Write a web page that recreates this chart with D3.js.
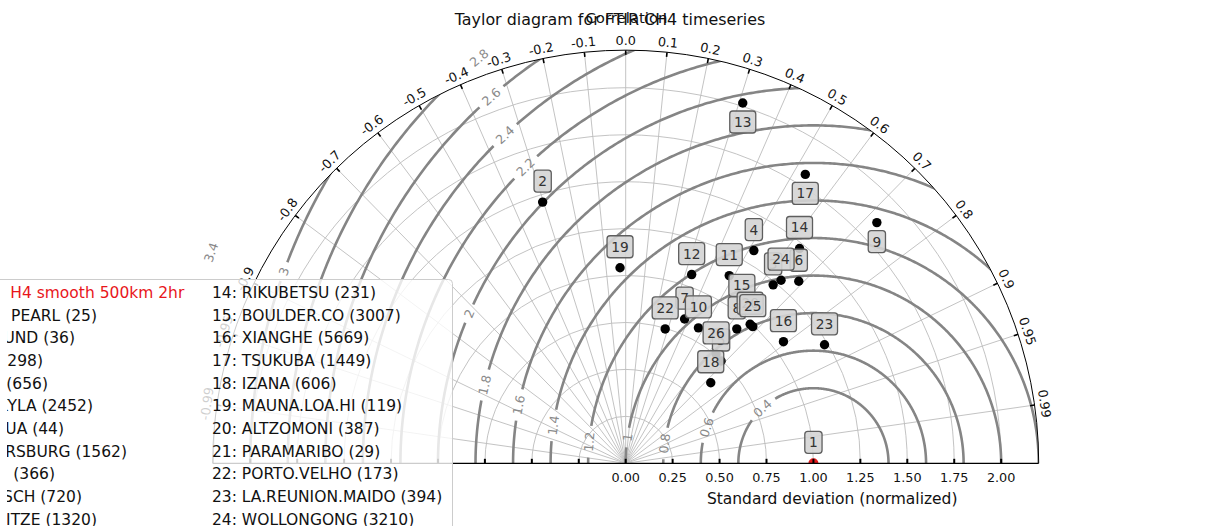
<!DOCTYPE html>
<html><head><meta charset="utf-8">
<script src="https://cdn.jsdelivr.net/npm/d3@7"></script>
<style>body{margin:0;background:#fff;overflow:hidden} text{font-family:"DejaVu Sans",sans-serif;}</style>
</head><body><svg id="chart" width="1208" height="526"></svg>
<script>
// ---------------- data ----------------
const titleText = "Taylor diagram for FTIR CH4 timeseries";
const corrAxisTitle = "Correlation";
const stdAxisTitle = "Standard deviation (normalized)";
const stdMax = 2.2;
const stdGrid = [0.25, 0.5, 0.75, 1.0, 1.25, 1.5, 1.75, 2.0];
const stdTickMarks = [-2.0, -1.75, -1.5, -1.25, -1.0, -0.75, -0.5, -0.25, 0, 0.25, 0.5, 0.75, 1.0, 1.25, 1.5, 1.75, 2.0];
const stdTickLabels = ["0.00", "0.25", "0.50", "0.75", "1.00", "1.25", "1.50", "1.75", "2.00"];
const stdTickLabelValues = [0, 0.25, 0.5, 0.75, 1.0, 1.25, 1.5, 1.75, 2.0];
const corrTicks = [-0.99, -0.95, -0.9, -0.8, -0.7, -0.6, -0.5, -0.4, -0.3, -0.2, -0.1, 0, 0.1, 0.2, 0.3, 0.4, 0.5, 0.6, 0.7, 0.8, 0.9, 0.95, 0.99];
const corrTickLabels = ["-0.99", "-0.95", "-0.9", "-0.8", "-0.7", "-0.6", "-0.5", "-0.4", "-0.3", "-0.2", "-0.1", "0.0", "0.1", "0.2", "0.3", "0.4", "0.5", "0.6", "0.7", "0.8", "0.9", "0.95", "0.99"];
const rmsLevels = [0.4, 0.6, 0.8, 1.0, 1.2, 1.4, 1.6, 1.8, 2.0, 2.2, 2.4, 2.6, 2.8, 3.0, 3.2, 3.4];
const rmsLabels = ["0.4", "0.6", "0.8", "1", "1.2", "1.4", "1.6", "1.8", "2", "2.2", "2.4", "2.6", "2.8", "3", "", "3.4"];
const rmsLabelAngles = [132.8, 161.4, 172.4, 172.1, 174.5, 171.7, 168.8, 166.6, 156.5, 134.2, 133.2, 131.3, 129.5, 160.1, null, 160.7];

const stationIds = [1, 2, 3, 4, 5, 6, 7, 8, 9, 10, 11, 12, 13, 14, 15, 16, 17, 18, 19, 20, 21, 22, 23, 24, 25, 26];
const stationStd = [1.0, 1.460, 1.233, 1.323, 0.745, 1.338, 0.830, 0.929, 1.853, 0.819, 1.142, 1.065, 2.018, 1.472, 1.040, 1.061, 1.812, 0.624, 1.042, 0.994, null, 0.746, 1.233, 1.279, 0.994, 0.756];
const stationCorr = [1.0, -0.303, 0.637, 0.516, 0.682, 0.689, 0.378, 0.637, 0.722, 0.473, 0.483, 0.330, 0.309, 0.629, 0.595, 0.792, 0.528, 0.726, -0.029, 0.667, null, 0.282, 0.859, 0.647, 0.681, 0.637];
const labelsBelow = [9, 13, 17];

const legendLeftText = ["CH4 smooth 500km 2hr", "PEARL (25)", "UND (36)", "(298)", "(656)", "KYLA (2452)", "UA (44)", "ERSBURG (1562)", "(366)", "SCH (720)", "PITZE (1320)"];
const legendLeftEnds = [184.3, 97, 75, 43, 48, 93, 64, 127, 55, 82, 97];
const legendRightText = ["14: RIKUBETSU (231)", "15: BOULDER.CO (3007)", "16: XIANGHE (5669)", "17: TSUKUBA (1449)", "18: IZANA (606)", "19: MAUNA.LOA.HI (119)", "20: ALTZOMONI (387)", "21: PARAMARIBO (29)", "22: PORTO.VELHO (173)", "23: LA.REUNION.MAIDO (394)", "24: WOLLONGONG (3210)"];

// ---------------- layout ----------------
const svg = d3.select("#chart");
const cx = 625.7, cy = 463.3;
const r = d3.scaleLinear().domain([0, stdMax]).range([0, 413]);
const R0 = r(stdMax);
const toXY = (s, ang) => [cx + r(s) * Math.cos(ang), cy - r(s) * Math.sin(ang)];
const deg = Math.PI / 180;

const defs = svg.append("defs");
defs.append("clipPath").attr("id", "half").append("path")
  .attr("d", `M${cx - R0},${cy} A${R0},${R0} 0 0 1 ${cx + R0},${cy} Z`);
defs.append("clipPath").attr("id", "legclip").append("rect")
  .attr("x", 7).attr("y", 0).attr("width", 1300).attr("height", 600);
defs.append("clipPath").attr("id", "legclip0").append("rect")
  .attr("x", 10).attr("y", 0).attr("width", 1300).attr("height", 600);

const gGrid = svg.append("g");
const gCont = svg.append("g").attr("clip-path", "url(#half)");
const gContLab = svg.append("g");
const gDots = svg.append("g");
const gBoxes = svg.append("g");
const gAxes = svg.append("g");
const gLegend = svg.append("g");

// std grid arcs
stdGrid.forEach(s => {
  const p = d3.path();
  p.moveTo(cx - r(s), cy);
  p.arc(cx, cy, r(s), Math.PI, 2 * Math.PI);
  gGrid.append("path").attr("d", p.toString()).attr("fill", "none")
    .attr("stroke", "#bcbcbc").attr("stroke-width", 0.9);
});
// correlation radial lines
corrTicks.forEach(c => {
  const a = Math.acos(c);
  const [x2, y2] = toXY(stdMax, a);
  gGrid.append("line").attr("x1", cx).attr("y1", cy).attr("x2", x2).attr("y2", y2)
    .attr("stroke", "#bcbcbc").attr("stroke-width", 0.9);
});

// RMS contours (circles around the reference point, std = 1)
const line = d3.line();
rmsLevels.forEach((R, i) => {
  const arcPts = (a0, a1) => {
    const pts = [];
    for (let a = a0; a < a1; a += 0.4) pts.push(a);
    pts.push(a1);
    return pts.map(a => [cx + r(1 + R * Math.cos(a * deg)), cy - r(R * Math.sin(a * deg))]);
  };
  const phi = rmsLabelAngles[i];
  let segs = [[0, 180]];
  if (phi !== null) {
    const lx = cx + r(1 + R * Math.cos(phi * deg));
    const ly = cy - r(R * Math.sin(phi * deg));
    let rot = -(phi + 90);
    while (rot <= -90) rot += 180;
    while (rot > 90) rot -= 180;
    const t = gContLab.append("text").attr("x", 0).attr("y", 0)
      .attr("transform", `translate(${lx},${ly}) rotate(${rot})`)
      .attr("text-anchor", "middle").attr("dominant-baseline", "central")
      .attr("font-size", 12.5).attr("fill", "#8a8a8a").text(rmsLabels[i]);
    const w = t.node().getComputedTextLength();
    const d = ((w / 2 + 6) / r(R)) / deg;
    segs = [[0, phi - d], [phi + d, 180]];
  }
  segs.forEach(([a0, a1]) => {
    gCont.append("path").attr("d", line(arcPts(a0, a1))).attr("fill", "none")
      .attr("stroke", "#858585").attr("stroke-width", 2.6);
  });
});

// station dots
stationIds.forEach((id, i) => {
  if (stationStd[i] === null) return;
  const [x, y] = toXY(stationStd[i], Math.acos(stationCorr[i]));
  const c = gDots.append("circle").attr("cx", x).attr("cy", y).attr("r", id === 1 ? 5 : 4.7)
    .attr("fill", id === 1 ? "#e41a1c" : "#000");
  if (id === 1) c.attr("clip-path", "url(#half)");
});
// station label boxes
stationIds.forEach((id, i) => {
  if (stationStd[i] === null) return;
  const [x, y] = toXY(stationStd[i], Math.acos(stationCorr[i]));
  const oy = labelsBelow.includes(id) ? 19 : -21;
  const g = gBoxes.append("g").attr("transform", `translate(${x},${y + oy})`);
  const rect = g.append("rect");
  const t = g.append("text").attr("text-anchor", "middle").attr("y", 5)
    .attr("font-size", 13.75).attr("fill", "#333").text(id);
  const w = t.node().getComputedTextLength() + 8.5;
  rect.attr("x", -w / 2).attr("y", -11).attr("width", w).attr("height", 22).attr("rx", 3)
    .attr("fill", "#d4d4d4").attr("fill-opacity", 0.9).attr("stroke", "#5e5e5e").attr("stroke-width", 1.3);
});

// axes: outer arc
{
  const p = d3.path();
  p.moveTo(cx - R0, cy);
  p.arc(cx, cy, R0, Math.PI, 2 * Math.PI);
  gAxes.append("path").attr("d", p.toString()).attr("fill", "none").attr("stroke", "#000").attr("stroke-width", 1);
}
gAxes.append("line").attr("x1", cx - R0).attr("x2", cx + R0).attr("y1", cy).attr("y2", cy)
  .attr("stroke", "#000").attr("stroke-width", 1.3);
// corr ticks + labels
corrTicks.forEach((c, i) => {
  const a = Math.acos(c);
  const [x1, y1] = toXY(stdMax, a);
  const x2 = cx + (R0 - 4.5) * Math.cos(a), y2 = cy - (R0 - 4.5) * Math.sin(a);
  gAxes.append("line").attr("x1", x1).attr("y1", y1).attr("x2", x2).attr("y2", y2)
    .attr("stroke", "#000").attr("stroke-width", 1.6);
  const lx = cx + (R0 + 10) * Math.cos(a), ly = cy - (R0 + 10) * Math.sin(a);
  gAxes.append("text").attr("transform", `translate(${lx},${ly}) rotate(${90 - a / deg})`)
    .attr("text-anchor", "middle").attr("dominant-baseline", "central")
    .attr("font-size", 12.8).attr("fill", "#111").text(corrTickLabels[i]);
});
// std ticks
stdTickMarks.forEach(s => {
  const x = cx + r(s);
  gAxes.append("line").attr("x1", x).attr("x2", x).attr("y1", cy).attr("y2", cy - 4.5)
    .attr("stroke", "#000").attr("stroke-width", 2);
});
stdTickLabelValues.forEach((s, i) => {
  gAxes.append("text").attr("x", cx + r(s)).attr("y", cy + 18.5).attr("text-anchor", "middle")
    .attr("font-size", 12.8).attr("fill", "#111").text(stdTickLabels[i]);
});
gAxes.append("text").attr("x", (cx + cx + R0) / 2).attr("y", 503.5).attr("text-anchor", "middle")
  .attr("font-size", 15.5).attr("fill", "#111").text(stdAxisTitle);
svg.append("text").attr("x", 610).attr("y", 24.5).attr("text-anchor", "middle")
  .attr("font-size", 15.9).attr("fill", "#111").text(titleText);
svg.append("text").attr("x", 626.5).attr("y", 22.5).attr("text-anchor", "middle")
  .attr("font-size", 14.9).attr("fill", "#111").text(corrAxisTitle);

// legend
gLegend.append("rect").attr("x", -30).attr("y", 279.5).attr("width", 482.5).attr("height", 320).attr("rx", 4)
  .attr("fill", "#fff").attr("fill-opacity", 0.8).attr("stroke", "#cccccc").attr("stroke-width", 1);
const rowY = i => 298 + i * 22.66;
legendLeftText.forEach((t, i) => {
  gLegend.append("text").attr("clip-path", i === 0 ? "url(#legclip0)" : "url(#legclip)")
    .attr("x", legendLeftEnds[i]).attr("y", rowY(i)).attr("text-anchor", "end")
    .attr("font-size", 15.5).attr("fill", i === 0 ? "#e8161b" : "#111").text(t);
});
legendRightText.forEach((t, i) => {
  gLegend.append("text").attr("x", 212).attr("y", rowY(i)).attr("font-size", 15.5)
    .attr("fill", "#111").text(t);
});
</script></body></html>
